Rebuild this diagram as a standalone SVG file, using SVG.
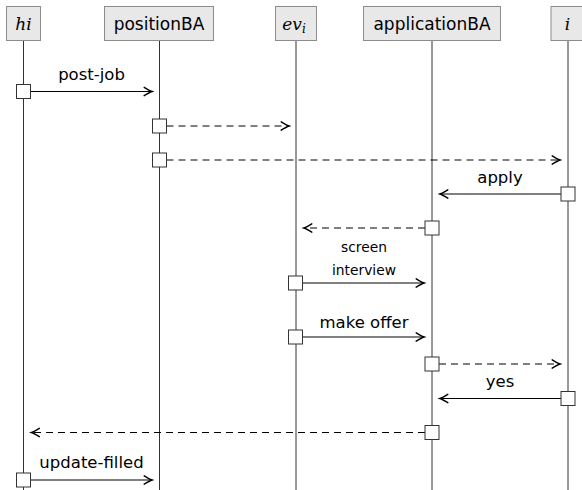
<svg xmlns="http://www.w3.org/2000/svg" width="582" height="490" viewBox="0 0 582 490">
<style>
.hdr{fill:#e8e8e8;stroke:#8c8c8c;stroke-width:1}
.ht{font-family:"DejaVu Sans",sans-serif;font-size:17px;fill:#000;text-anchor:middle}
.hm{font-family:"DejaVu Serif",serif;font-style:italic;font-size:17px;fill:#000;text-anchor:middle}
.life{stroke:#333;stroke-width:1;fill:none}
.act{fill:#fff;stroke:#333;stroke-width:1}
.msg{stroke:#000;stroke-width:1;fill:none;marker-end:url(#ah)}
.dash{stroke-dasharray:7 5}
.lbl{font-family:"DejaVu Sans",sans-serif;font-size:16.5px;fill:#000;text-anchor:middle}
.sm{font-size:13.8px}
</style>
<defs>
<marker id="ah" markerUnits="userSpaceOnUse" markerWidth="12" markerHeight="12" viewBox="-8 -5 10 10" refX="0" refY="0" orient="auto">
<path d="M-6.5,-3.5 Q-2,-0.6 0,0 Q-2,0.6 -6.5,3.5" fill="none" stroke="#000" stroke-width="1.2" stroke-linecap="round"/>
</marker>
</defs>
<g id="lifelines">
<line class="life" x1="23.5" y1="40.5" x2="23.5" y2="490"/>
<line class="life" x1="159.5" y1="40.5" x2="159.5" y2="490"/>
<line class="life" x1="296" y1="40.5" x2="296" y2="490"/>
<line class="life" x1="432" y1="40.5" x2="432" y2="490"/>
<line class="life" x1="568" y1="40.5" x2="568" y2="490"/>
</g>
<g id="node-hi">
<rect class="hdr" x="6.5" y="6.5" width="34" height="34"/>
<text class="hm" x="23.5" y="29.5">hi</text>
</g>
<g id="node-positionBA">
<rect class="hdr" x="104.5" y="6.5" width="109" height="34"/>
<text class="ht" x="159" y="29.5">positionBA</text>
</g>
<g id="node-evi">
<rect class="hdr" x="275.5" y="6.5" width="41" height="34"/>
<text class="hm" x="294" y="29.5">ev<tspan font-size="12" dy="3">i</tspan></text>
</g>
<g id="node-applicationBA">
<rect class="hdr" x="363.5" y="6.5" width="137" height="34"/>
<text class="ht" x="432" y="29.5">applicationBA</text>
</g>
<g id="node-i">
<rect class="hdr" x="551" y="6.5" width="34" height="34"/>
<text class="hm" x="567.5" y="29.5">i</text>
</g>
<g id="connectors">
<line class="msg" x1="30.5" y1="91.5" x2="152" y2="91.5"/>
<line class="msg dash" x1="166.5" y1="126" x2="289" y2="126"/>
<line class="msg dash" x1="166.5" y1="160" x2="560" y2="160"/>
<line class="msg" x1="561" y1="194" x2="440" y2="194"/>
<line class="msg dash" x1="425" y1="228" x2="304" y2="228"/>
<line class="msg" x1="302.5" y1="283" x2="424" y2="283"/>
<line class="msg" x1="302.5" y1="337" x2="424" y2="337"/>
<line class="msg dash" x1="439" y1="364" x2="560" y2="364"/>
<line class="msg" x1="561" y1="398.5" x2="440" y2="398.5"/>
<line class="msg dash" x1="425" y1="432.5" x2="31.5" y2="432.5"/>
<line class="msg" x1="30.5" y1="480" x2="152" y2="480"/>
</g>
<g id="activations">
<rect class="act" x="16.5" y="84.5" width="14" height="14"/>
<rect class="act" x="152.5" y="119" width="14" height="14"/>
<rect class="act" x="152.5" y="153" width="14" height="14"/>
<rect class="act" x="561" y="187" width="14" height="14"/>
<rect class="act" x="425" y="221" width="14" height="14"/>
<rect class="act" x="288.5" y="276" width="14" height="14"/>
<rect class="act" x="288.5" y="330" width="14" height="14"/>
<rect class="act" x="425" y="357" width="14" height="14"/>
<rect class="act" x="561" y="391.5" width="14" height="14"/>
<rect class="act" x="425" y="425.5" width="14" height="14"/>
<rect class="act" x="16.5" y="473" width="14" height="14"/>
</g>
<g id="labels">
<text class="lbl" x="91.5" y="80">post-job</text>
<text class="lbl" x="500" y="183">apply</text>
<text class="lbl sm" x="364" y="252">screen</text>
<text class="lbl sm" x="364" y="275">interview</text>
<text class="lbl" x="364" y="328">make offer</text>
<text class="lbl" x="500" y="387">yes</text>
<text class="lbl" x="91.5" y="468">update-filled</text>
</g>
</svg>
